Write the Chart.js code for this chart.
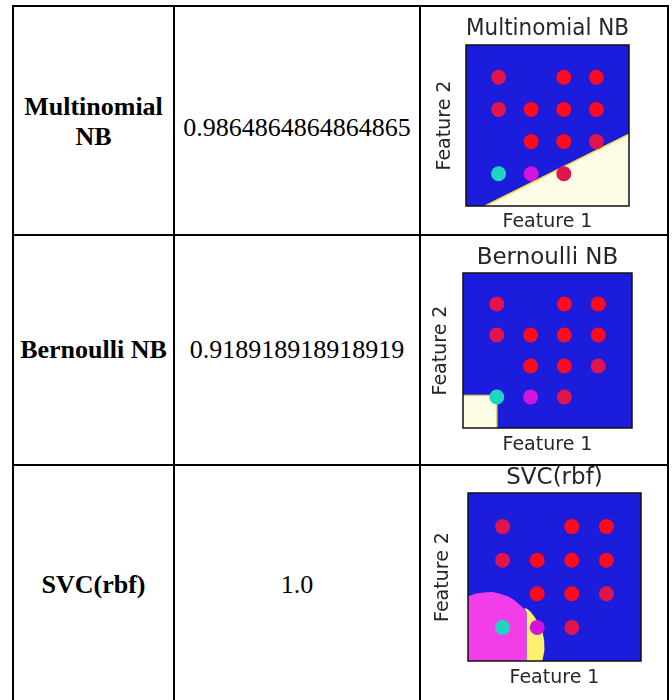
<!DOCTYPE html>
<html>
<head>
<meta charset="utf-8">
<script src="https://cdn.jsdelivr.net/npm/chart.js@4.4.1/dist/chart.umd.min.js"></script>
<style>
  html, body { margin: 0; padding: 0; background: #fff; width: 672px; height: 700px; overflow: hidden; }
  body { position: relative; }
  .ln { position: absolute; background: #000; }
  .txt {
    position: absolute; display: flex; align-items: center; justify-content: center;
    text-align: center; font-family: 'Liberation Serif', 'Times New Roman', serif;
    font-size: 26px; line-height: 1.15; color: #000;
  }
  .name { font-weight: bold; }
  canvas { position: absolute; }
</style>
</head>
<body>
<!-- table rules -->
<div class="ln" style="left:12px;top:5px;width:657px;height:2px"></div>
<div class="ln" style="left:12px;top:234px;width:657px;height:2px"></div>
<div class="ln" style="left:12px;top:464px;width:657px;height:2px"></div>
<div class="ln" style="left:12px;top:5px;width:2px;height:695px"></div>
<div class="ln" style="left:173px;top:5px;width:2px;height:695px"></div>
<div class="ln" style="left:419px;top:5px;width:2px;height:695px"></div>
<div class="ln" style="left:667px;top:5px;width:2px;height:695px"></div>

<canvas id="plot0" width="245" height="227" style="left:422px;top:7px"></canvas>
<canvas id="plot1" width="245" height="227" style="left:422px;top:237px"></canvas>
<canvas id="plot2" width="245" height="240" style="left:422px;top:460px"></canvas>

<script>
// ── Tablo verisi ──
const modelNames = ['Multinomial NB', 'Bernoulli NB', 'SVC(rbf)'];
const accuracies = ['0.9864864864864865', '0.918918918918919', '1.0'];

// ── Örnek noktalar (Feature 1, Feature 2, sınıf) ──
const pointX = [1, 3, 4, 1, 2, 3, 4, 2, 3, 4, 1, 2, 3];
const pointY = [4, 4, 4, 3, 3, 3, 3, 2, 2, 2, 1, 1, 1];
const pointClass = [1, 0, 0, 1, 0, 0, 0, 0, 0, 1, 3, 2, 1];

// ── Karar bölgeleri (okunan sınır noktaları) ──
const mnbRegion = [[0.58, 0], [5, 0], [5, 2.23], [0.58, 0]];
const mnbEdge = [[0.58, 0], [5, 2.23]];
const bnbRegion = [[0, 0], [1, 0], [1, 1.05], [0, 1.05], [0, 0]];
const bnbEdge = [[1, 0], [1, 1.05], [0, 1.05]];
const svcPinkRegion = [[0, 0], [0, 1.92], [0.2, 2.0], [0.45, 2.04], [0.7, 2.05], [0.93, 2.0],
  [1.15, 1.93], [1.32, 1.82], [1.47, 1.7], [1.6, 1.57], [1.69, 1.45], [1.69, 0], [0, 0]];
const svcYellowRegion = [[1.69, 0], [1.69, 1.45], [1.62, 1.58], [1.72, 1.55], [1.82, 1.45],
  [1.92, 1.32], [2.04, 1.12], [2.14, 0.92], [2.2, 0.63], [2.21, 0.33], [2.15, 0], [1.69, 0]];

const axisMin = 0;
const axisMax = 5;

// ── Renkler ──
const BLUE = '#1c1cdc';
const CREAM = '#fdfde6';
const classColors = ['#ff0a1e', '#e2144c', '#d214dc', '#1ed6c0'];

// ── Tablo metinleri ──
function addText(left, width, cy, text, bold) {
  const d = document.createElement('div');
  d.className = 'txt' + (bold ? ' name' : '');
  d.style.left = left + 'px';
  d.style.width = width + 'px';
  d.style.top = (cy - 45) + 'px';
  d.style.height = '90px';
  d.textContent = text;
  document.body.appendChild(d);
}
const nameCenters = [121.5, 350, 585];
const accCenters = [127.5, 350, 585];
modelNames.forEach((n, i) => {
  addText(14, 159, nameCenters[i], n, true);
  addText(175, 244, accCenters[i], accuracies[i], false);
});

// ── Grafik yerleşimi (mutlak piksel hedefleri) ──
const plotLayouts = [
  { left: 422, top: 7, w: 245, h: 227, area: [466, 45, 629, 206], titleY: 29.5, yLabX: 445, xLabY: 222.5 },
  { left: 422, top: 237, w: 245, h: 227, area: [463, 273, 632, 428], titleY: 258, yLabX: 441.5, xLabY: 445.5 },
  { left: 422, top: 460, w: 245, h: 240, area: [468, 493, 641, 661], titleY: 478, yLabX: 443.5, xLabY: 678.5 }
];
const TITLE_SIZE = 23;
const LABEL_SIZE = 19;

function toPts(arr) {
  return arr.map(p => ({ x: p[0], y: p[1] }));
}

function regionDs(arr, color) {
  return {
    type: 'line', data: toPts(arr), fill: 'shape', backgroundColor: color,
    borderWidth: 0, pointRadius: 0, tension: 0, order: 5
  };
}
function edgeDs(arr, color) {
  return {
    type: 'line', data: toPts(arr), fill: false, borderColor: color,
    borderWidth: 1.5, pointRadius: 0, tension: 0, order: 4
  };
}

const regionSets = [
  [regionDs(mnbRegion, CREAM), edgeDs(mnbEdge, '#f2dc3c')],
  [regionDs(bnbRegion, CREAM), edgeDs(bnbEdge, '#e8d46a')],
  [regionDs(svcPinkRegion, '#f23ee8'), regionDs(svcYellowRegion, '#fff070')]
];

const framePlugin = {
  id: 'frame',
  beforeDraw(chart) {
    const { ctx, chartArea: a } = chart;
    ctx.save();
    ctx.fillStyle = BLUE;
    ctx.fillRect(a.left, a.top, a.right - a.left, a.bottom - a.top);
    ctx.restore();
  },
  afterDatasetsDraw(chart) {
    const { ctx, chartArea: a } = chart;
    ctx.save();
    ctx.strokeStyle = '#111';
    ctx.lineWidth = 1.5;
    ctx.strokeRect(a.left, a.top, a.right - a.left, a.bottom - a.top);
    ctx.restore();
  }
};

plotLayouts.forEach((L, i) => {
  const aL = L.area[0] - L.left, aT = L.area[1] - L.top;
  const aR = L.area[2] - L.left, aB = L.area[3] - L.top;

  // başlık eksen alanının üstünde ortalansın diye sol dolgu = alan solu,
  // y ekseni genişliği 0 (başlık negatif dolguyla sola itiliyor)
  const tTop = (L.titleY - L.top) - TITLE_SIZE / 2;
  const tBottom = aT - TITLE_SIZE - tTop;
  const yTop = (L.yLabX - L.left) - aL - LABEL_SIZE / 2;
  const yBottom = -LABEL_SIZE - yTop;
  const xBottom = L.h - (L.xLabY - L.top) - LABEL_SIZE / 2;
  const xTop = L.h - aB - LABEL_SIZE - xBottom;

  const labelFont = { family: "'DejaVu Sans', sans-serif", size: LABEL_SIZE, lineHeight: 1 };

  new Chart(document.getElementById('plot' + i), {
    type: 'scatter',
    data: {
      datasets: [
        {
          data: pointX.map((x, k) => ({ x, y: pointY[k] })),
          pointRadius: 7.5,
          pointHoverRadius: 7.5,
          pointBorderWidth: 0,
          pointBackgroundColor: pointClass.map(c => classColors[c]),
          order: 0
        },
        ...regionSets[i]
      ]
    },
    options: {
      responsive: false,
      animation: false,
      layout: { padding: { left: aL, top: 0, bottom: 0, right: L.w - aR } },
      scales: {
        x: {
          type: 'linear', min: axisMin, max: axisMax,
          grid: { display: false, drawTicks: false },
          border: { display: false },
          ticks: { display: false },
          title: { display: true, text: 'Feature 1', color: '#262626', font: labelFont,
                   padding: { top: xTop, bottom: xBottom } }
        },
        y: {
          type: 'linear', min: axisMin, max: axisMax,
          grid: { display: false, drawTicks: false },
          border: { display: false },
          ticks: { display: false },
          title: { display: true, text: 'Feature 2', color: '#262626', font: labelFont,
                   padding: { top: yTop, bottom: yBottom } }
        }
      },
      plugins: {
        legend: { display: false },
        tooltip: { enabled: false },
        title: {
          display: true,
          text: modelNames[i],
          color: '#262626',
          font: { family: "'DejaVu Sans', sans-serif", size: TITLE_SIZE, weight: 'normal', lineHeight: 1 },
          padding: { top: tTop, bottom: tBottom }
        }
      }
    },
    plugins: [framePlugin]
  });
});
</script>
</body>
</html>
